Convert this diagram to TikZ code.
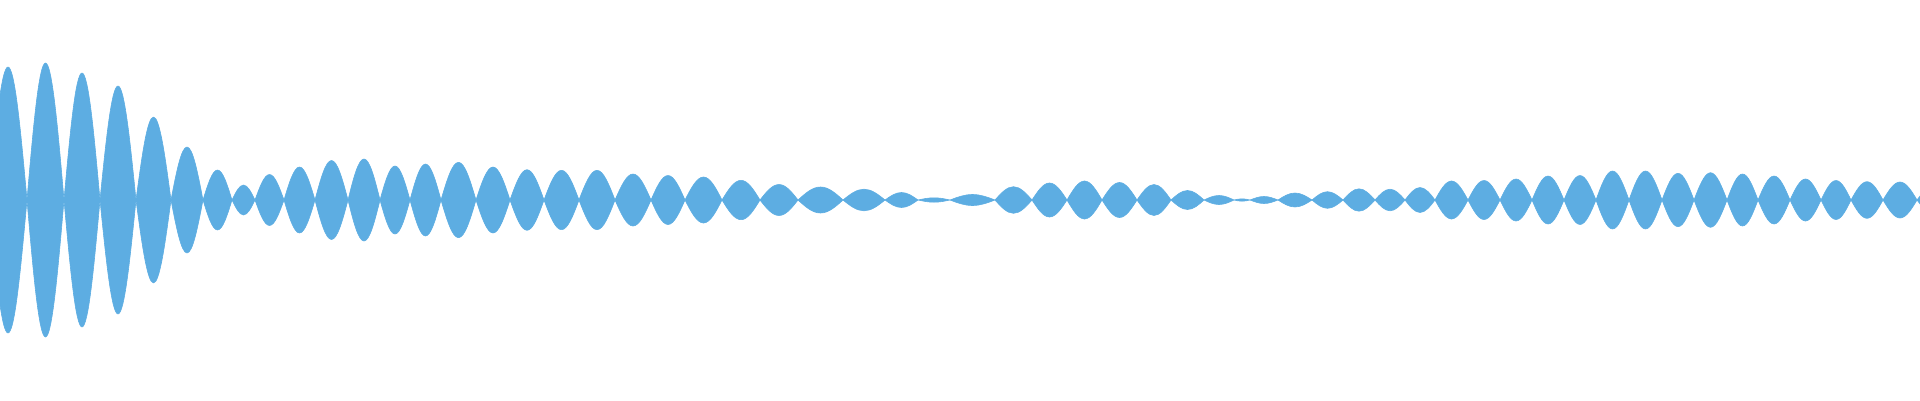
\documentclass[tikz,border=0pt]{standalone}
\definecolor{wave}{RGB}{93,173,226}
\begin{document}
\begin{tikzpicture}[x=1pt,y=1pt,lobe/.style={fill=wave,draw=wave,line width=0.6pt,line join=round}]
\useasboundingbox (0,-200) rectangle (1920,200);
\clip (0,-200) rectangle (1920,200);
\foreach \a/\b/\h in {-11/27/133,27/64/137,64/100/127,100/136/114,136/171/83,171/203/53,203/232/30,232/255/15,255/284/25.5,284/315/33,315/348/39.5,348/380/41,380/410/34,410/441/36,441/476/37.7,476/510/33,510/544/30.3,544/579/29.7,579/615/29.7,615/651/26,651/685/24.5,685/722/23,722/760/19.7,760/798/15.5,798/843/13,843/885/10.8,885/918/7.5,918/950/2.2,950/995/5.5,995/1032/13.3,1032/1067/17,1067/1102/19,1102/1137/17.5,1137/1171/15.5,1171/1204/9.5,1204/1234/4.5,1234/1250/1.2,1250/1278/3.5,1278/1312/7,1312/1343/8.3,1343/1375/11.2,1375/1405/10.8,1405/1435/12.5,1435/1468/19,1468/1500/19.5,1500/1532/21,1532/1564/24,1564/1596/24.5,1596/1629/29,1629/1662/29,1662/1694/26.7,1694/1727/27.3,1727/1758/26,1758/1790/24,1790/1821/21,1821/1851/19.5,1851/1883/18.3,1883/1917/18,1917/1950/14}{
  \pgfmathsetmacro\m{(\a+\b)/2}
  \path[lobe] (\a,0) sin (\m,\h) cos (\b,0) sin (\m,-\h) cos (\a,0) -- cycle;
}
\end{tikzpicture}
\end{document}
